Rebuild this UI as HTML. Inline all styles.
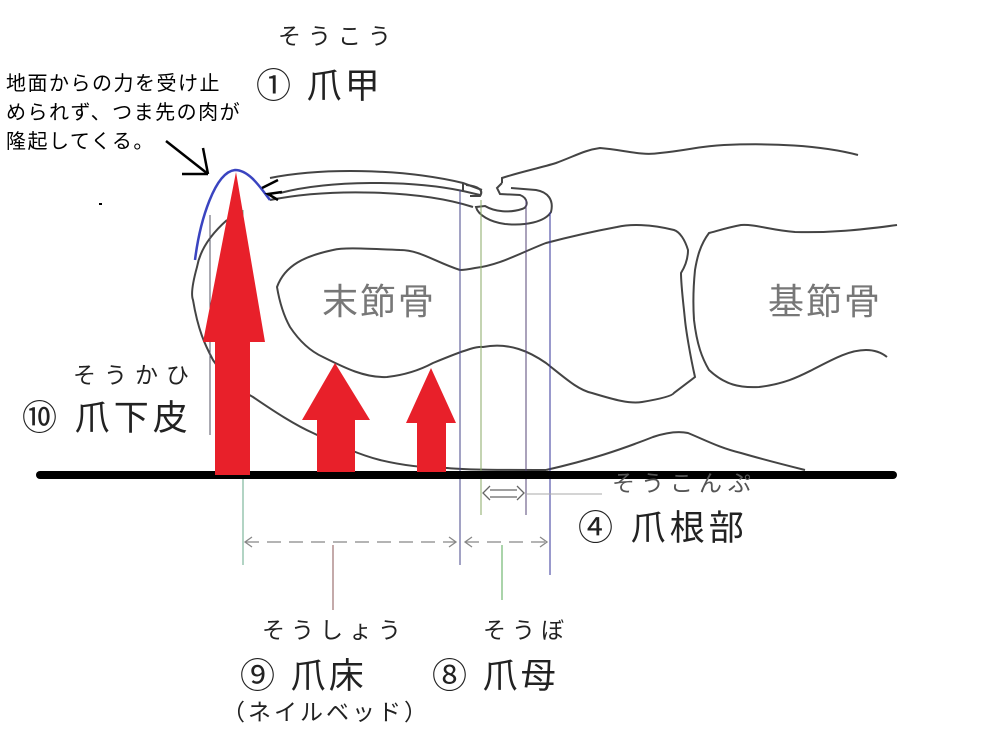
<!DOCTYPE html>
<html><head><meta charset="utf-8"><style>
html,body{margin:0;padding:0;background:#fff;}
svg{display:block;}
text{font-family:"Liberation Sans","Noto Sans CJK JP",sans-serif;}
</style></head><body>
<svg width="996" height="738" viewBox="0 0 996 738" xmlns="http://www.w3.org/2000/svg">
<rect width="996" height="738" fill="#fff"/>
<g fill="none" stroke="#444" stroke-width="2">
<path d="M502,183 L502,178 C520,172 540,168 556,163 C575,156 585,150 600,148 C625,150 640,156 660,153 C690,150 700,146 724,145 C770,143 820,145 858,155"/>
<path d="M270,178 C320,168 400,168 463,183 L482,190"/>
<path d="M280,193 C330,180 410,180 463,191 L480,195"/>
<path d="M270,200 C330,188 420,190 473,207"/>
<path d="M463,183 L463,192 M466,185 C478,186 484,190 480,196 L470,196"/>
<path d="M502,183 L497,188 L500,194 L520,195 C528,198 529,207 522,209 C510,213 495,212 485,206 L476,207 C478,215 490,222 505,224 C525,226 545,222 551,212 C554,200 548,192 536,190 L511,188"/>
<path d="M460,270 C435,262 420,250 400,250 C370,249 345,247 333,250 C305,256 285,265 277,287 C280,305 285,318 290,327 C300,342 312,352 323,357 C345,368 365,378 387,377 C405,375 420,370 433,363 C450,356 460,352 467,350 C478,346 483,347 483,347 C510,342 530,352 546,363 C565,378 578,390 592,393 C615,400 630,404 642,402 C660,399 672,396 674,393 L695,377 C690,355 686,330 685,320 C683,300 681,285 681,273 C686,265 688,258 688,250 C685,240 680,232 674,230 C650,224 630,224 617,227 C590,232 565,238 546,243 C520,253 500,265 475,268 C465,270 462,270 460,270"/>
<path d="M897,225 C860,230 830,233 795,232 C770,230 755,224 741,225 C725,228 714,232 709,233 C700,245 697,258 695,270 C693,290 693,305 694,320 C697,345 702,358 709,370 C725,385 740,388 759,387 C785,384 800,376 812,370 C835,358 850,350 866,350 C875,350 882,353 887,357"/>
<path d="M546,470 C590,460 620,450 653,437 C665,433 678,431 688,433 C705,440 720,448 741,453 C765,460 785,465 805,470"/>
<path d="M227,220 C210,235 200,250 197,267 C192,285 191,295 193,300 C198,330 205,345 213,360 C228,382 240,390 253,397 C275,412 295,425 313,433 C340,446 360,455 380,460 C405,466 425,468 447,468 C470,470 500,470 546,470"/>
</g>
<g stroke-width="1" fill="none">
<line x1="210" y1="215" x2="210" y2="435" stroke="#556"/>
<line x1="243" y1="210" x2="243" y2="565" stroke="#6a8"/>
<line x1="460" y1="190" x2="460" y2="565" stroke="#448"/>
<line x1="481" y1="200" x2="481" y2="515" stroke="#8a6"/>
<line x1="526" y1="200" x2="526" y2="515" stroke="#547"/>
<line x1="550" y1="212" x2="550" y2="575" stroke="#339"/>
<line x1="333" y1="545" x2="333" y2="610" stroke="#855"/>
<line x1="502" y1="545" x2="502" y2="600" stroke="#5a5"/>
<line x1="526" y1="494" x2="602" y2="494" stroke="#aaa"/>
</g>
<g stroke="#888" stroke-width="1.3" fill="none">
<line x1="245" y1="542" x2="456" y2="542" stroke-dasharray="14,8"/>
<path d="M252,537 L245,542 L252,547 M449,537 L456,542 L449,547"/>
<line x1="465" y1="542" x2="547" y2="542" stroke-dasharray="14,8"/>
<path d="M472,537 L465,542 L472,547 M540,537 L547,542 L540,547"/>
<path d="M490,490 L517,490 M490,497 L517,497 M490,486 L483,493 L490,500 M517,486 L524,493 L517,500" stroke="#666"/>
</g>
<line x1="40" y1="475" x2="893" y2="475" stroke="#000" stroke-width="8" stroke-linecap="round"/>
<g fill="#e8202a">
<polygon points="236,172 265,342 250,342 250,475 215,475 215,342 203,342"/>
<polygon points="335,363 370,420 355,420 355,472 317,472 317,420 302,420"/>
<polygon points="431,368 456,423 446,423 446,472 417,472 417,423 406,423"/>
</g>
<path d="M195,260 C200,220 215,172 235,170 C250,170 262,190 270,200" fill="none" stroke="#3a44c0" stroke-width="2.5"/>
<g stroke="#000" stroke-width="2.5" fill="none">
<line x1="166" y1="141" x2="208" y2="174"/>
<line x1="203" y1="148" x2="208" y2="174"/>
<line x1="182" y1="174" x2="208" y2="174"/>
<path d="M278,180 L262,188 M282,192 L268,194 L278,200"/>
</g>
<rect x="99" y="203" width="3" height="2" fill="#000"/>
<g fill="#222">
<text x="278" y="44" font-size="23" letter-spacing="7">そうこう</text>
<text x="256" y="98" font-size="35" letter-spacing="3">① 爪甲</text>
<text x="6" y="90" font-size="20" letter-spacing="1.5" fill="#000">地面からの力を受け止</text>
<text x="6" y="119" font-size="20" letter-spacing="1.5" fill="#000">められず、つま先の肉が</text>
<text x="6" y="148" font-size="20" letter-spacing="1.5" fill="#000">隆起してくる。</text>
<text x="73" y="383" font-size="23" letter-spacing="8">そうかひ</text>
<text x="22" y="430" font-size="35" letter-spacing="4">⑩ 爪下皮</text>
<text x="612" y="491" font-size="23" letter-spacing="6" fill="#555">そうこんぷ</text>
<text x="578" y="540" font-size="35" letter-spacing="4">④ 爪根部</text>
<text x="262" y="638" font-size="23" letter-spacing="6">そうしょう</text>
<text x="240" y="688" font-size="35" letter-spacing="3">⑨ 爪床</text>
<text x="222" y="720" font-size="23" letter-spacing="3">（ネイルベッド）</text>
<text x="483" y="638" font-size="23" letter-spacing="6">そうぼ</text>
<text x="432" y="688" font-size="35" letter-spacing="3">⑧ 爪母</text>
<text x="322" y="314" font-size="36" letter-spacing="2" fill="#777">末節骨</text>
<text x="768" y="314" font-size="36" letter-spacing="2" fill="#777">基節骨</text>
</g>
</svg>
</body></html>
